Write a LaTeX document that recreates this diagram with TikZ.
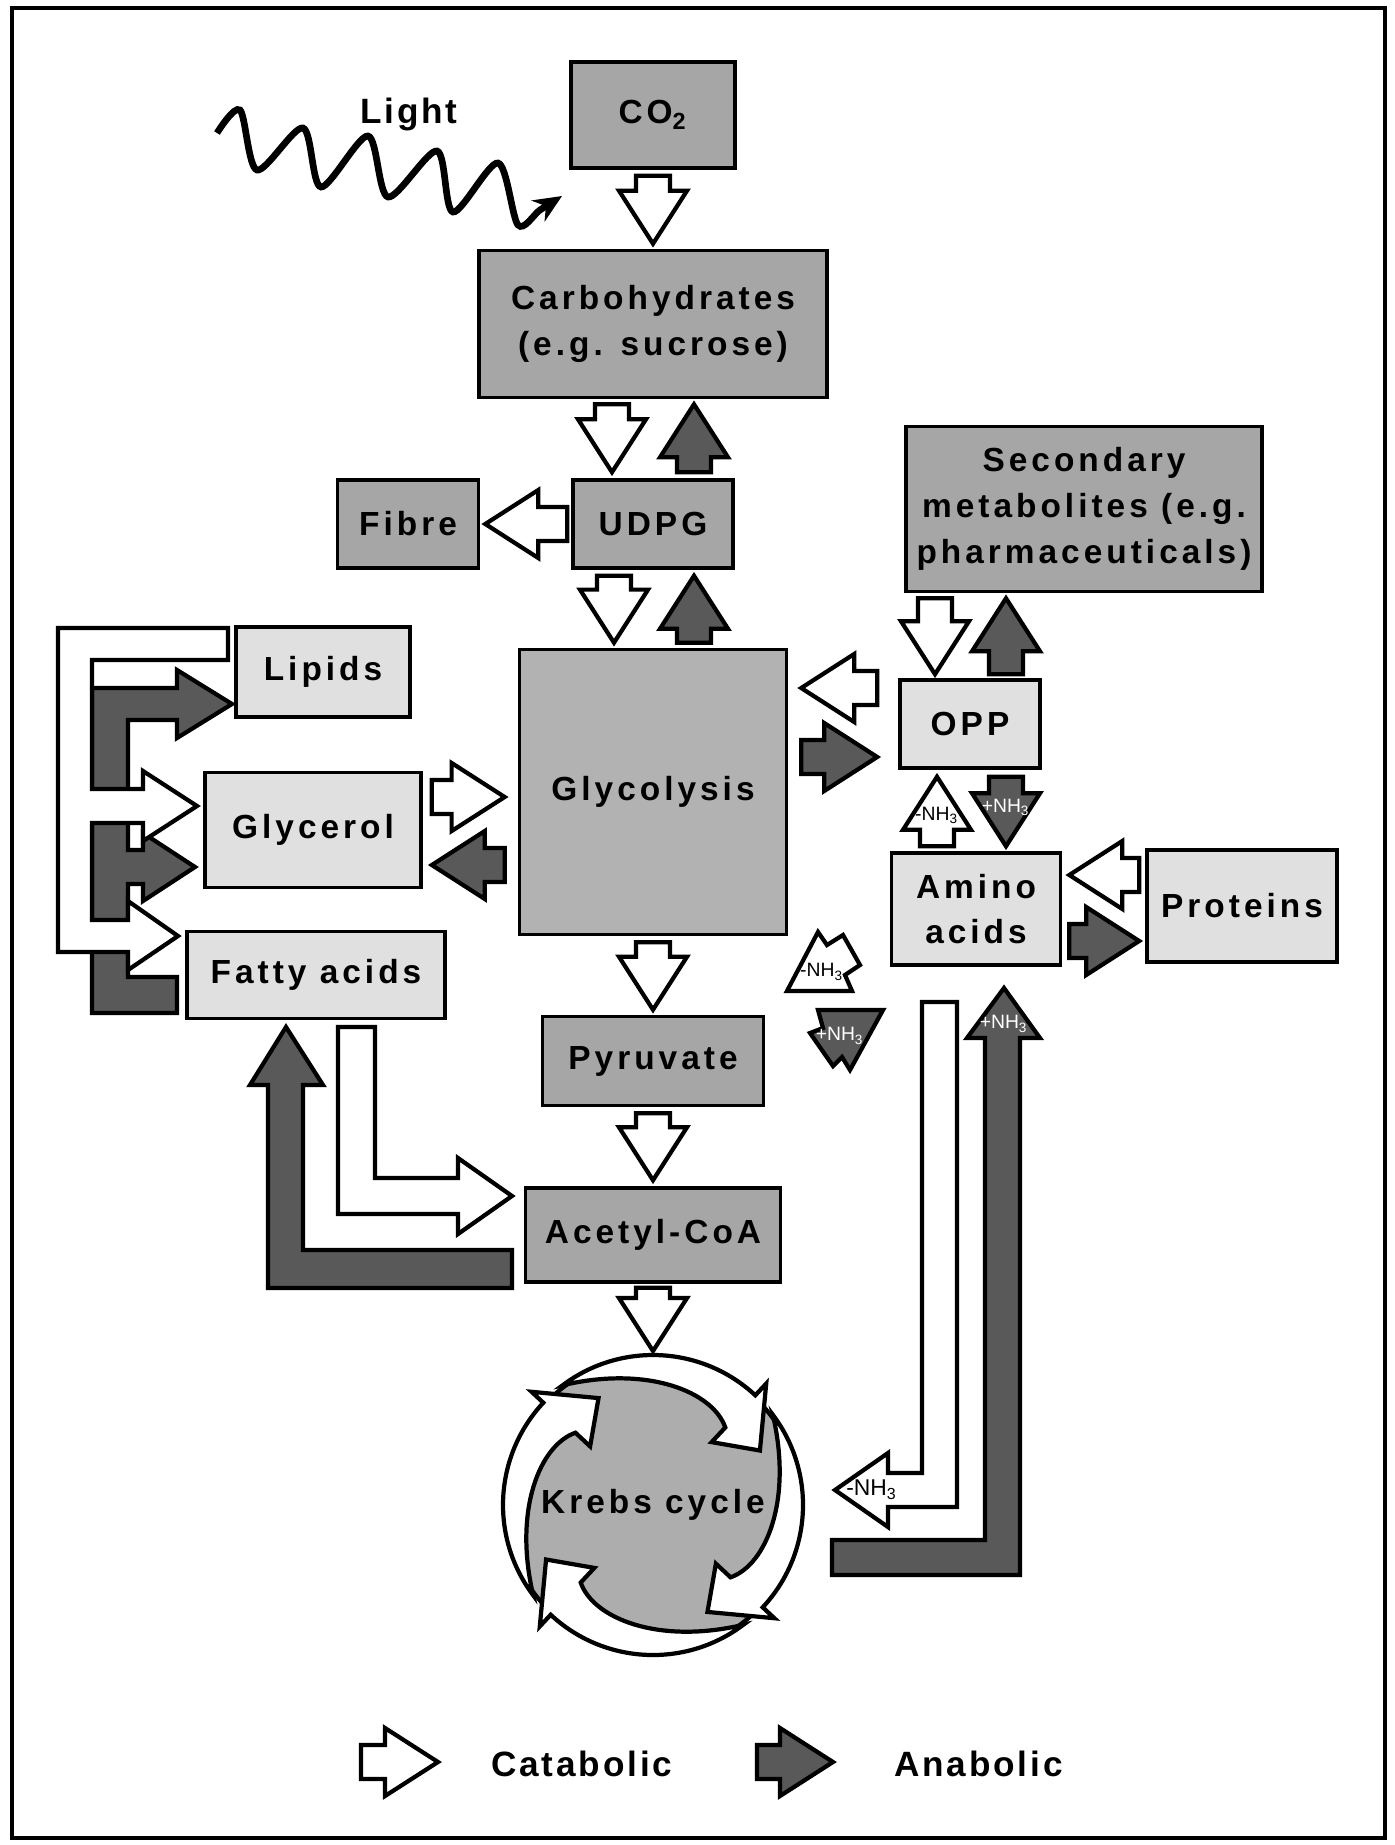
\documentclass[tikz,border=0pt]{standalone}
\usepackage{fontspec}
\setmainfont{Liberation Sans}
\newfontfamily\boxfont[LetterSpace=12]{Liberation Sans}
\newfontfamily\legfont[LetterSpace=8]{Liberation Sans}
\usetikzlibrary{calc,arrows.meta}

\tikzset{
  lbl/.style={font=\boxfont\bfseries\fontsize{9.5}{13}\selectfont},
  box/.style={lbl, draw, line width=1pt, inner sep=0pt, align=center},
  darkbox/.style={box, fill=black!35},
  lightbox/.style={box, fill=black!12},
  cat/.style={draw, line width=1.2pt, fill=white},
  ana/.style={draw, line width=1.2pt, fill=black!65},
  nh/.style={font=\fontsize{5.5}{6}\selectfont, inner sep=0pt},
  leg/.style={anchor=west, font=\legfont\bfseries\fontsize{10}{12}\selectfont},
}

% block arrow from #2 to #3
\newcommand\barrow[3][cat]{%
  \coordinate (bs) at #2;
  \coordinate (be) at #3;
  \coordinate (bh) at ($(be)!0.53cm!(bs)$);
  \draw[#1] ($(bs)!0.17cm!90:(be)$) -- ($(bh)!0.17cm!90:(be)$)
    -- ($(bh)!0.34cm!90:(be)$) -- (be) -- ($(bh)!0.34cm!-90:(be)$)
    -- ($(bh)!0.17cm!-90:(be)$) -- ($(bs)!0.17cm!-90:(be)$) -- cycle;}

\begin{document}
\begin{tikzpicture}[x=0.01cm, y=-0.01cm]
\useasboundingbox (0,0) rectangle (1395,1845);
\draw[line width=1.2pt] (12,8) rectangle (1385,1838);

% boxes
\node[darkbox, minimum width=1.64cm, minimum height=1.06cm] (co2) at (653,115) {CO\textsubscript{2}};
\node[darkbox, minimum width=3.48cm, minimum height=1.47cm] (carb) at (653,324) {Carbohydrates\\(e.g. sucrose)};
\node[darkbox, minimum width=1.60cm, minimum height=0.88cm] (udpg) at (653,524) {UDPG};
\node[darkbox, minimum width=1.41cm, minimum height=0.88cm] (fibre) at (408,524) {Fibre};
\node[box, fill=black!30, minimum width=2.67cm, minimum height=2.85cm] (glyc) at (653,792) {Glycolysis};
\node[darkbox, minimum width=3.56cm, minimum height=1.65cm] (sec) at (1084,509) {Secondary\\metabolites (e.g.\\pharmaceuticals)};
\node[lightbox, minimum width=1.40cm, minimum height=0.88cm] (opp) at (970,724) {OPP};
\node[lightbox, minimum width=1.69cm, minimum height=1.12cm] (amino) at (976,909) {Amino\\acids};
\node[lightbox, minimum width=1.90cm, minimum height=1.12cm] (prot) at (1242,906) {Proteins};
\node[lightbox, minimum width=1.74cm, minimum height=0.90cm] (lipid) at (323,672) {Lipids};
\node[lightbox, minimum width=2.16cm, minimum height=1.15cm] (glycer) at (313,830) {Glycerol};
\node[lightbox, minimum width=2.58cm, minimum height=0.87cm] (fatty) at (316,975) {Fatty acids};
\node[darkbox, minimum width=2.21cm, minimum height=0.89cm] (pyr) at (653,1061) {Pyruvate};
\node[darkbox, minimum width=2.55cm, minimum height=0.94cm] (acoa) at (653,1235) {Acetyl-CoA};

% light
\node[font=\legfont\bfseries\fontsize{10}{12}\selectfont] (light) at (409,114) {Light};
\draw[line width=1.9pt, -{Stealth[length=8pt,width=7pt]}] plot[smooth, tension=0.5] coordinates
  {(217,133) (240,110) (257,170) (303,128) (321,187) (368,136) (388,197) (437,151) (453,212) (498,163) (518,225) (540,210) (562,196)};

% krebs cycle
\coordinate (kc) at (653,1505);
\begin{scope}[shift={(kc)}, y=0.01cm]
\filldraw[fill=black!32, line width=1.2pt] (0,0) circle[radius=148];
\foreach \a in {-133,-43,47,137}
  \draw[cat] ({\a+80}:150) arc[start angle=\a+80, end angle=\a, radius=150]
    -- (\a:166) -- ({\a-20}:120) -- (\a:86) -- (\a:106)
    .. controls ({\a+15}:128) and ({\a+45}:140) .. ({\a+80}:150) -- cycle;
\end{scope}
\node[lbl] (krebs) at (kc) {Krebs cycle};

% main column
\barrow{($(co2.south)+(0,6)$)}{($(carb.north)+(0,-5)$)}
\barrow{($(carb.south)+(-41,5)$)}{($(udpg.north)+(-41,-6)$)}
\barrow[ana]{($(udpg.north)+(41,-6)$)}{($(carb.south)+(41,5)$)}
\barrow{($(udpg.west)+(-4,0)$)}{($(fibre.east)+(5,0)$)}
\barrow{($(udpg.south)+(-39,6)$)}{($(glyc.north)+(-39,-5)$)}
\barrow[ana]{($(glyc.north)+(41,-5)$)}{($(udpg.south)+(41,6)$)}
\barrow{($(glyc.south)+(0,6)$)}{($(pyr.north)+(0,-5)$)}
\barrow{($(pyr.south)+(0,6)$)}{($(acoa.north)+(0,-6)$)}
\barrow{($(acoa.south)+(0,4)$)}{($(kc)+(0,-154)$)}

% right side
\barrow{($(sec.south)+(-149,5)$)}{($(opp.north)+(-35,-4)$)}
\barrow[ana]{($(opp.north)+(36,-4)$)}{($(sec.south)+(-78,5)$)}
\barrow{($(opp.west)+(-21,-36)$)}{($(opp.west)+(-97,-36)$)}
\barrow[ana]{($(opp.west)+(-97,33)$)}{($(opp.west)+(-21,33)$)}
\barrow{($(amino.north)+(-39,-5)$)}{($(opp.south)+(-33,7)$)}
\barrow[ana]{($(opp.south)+(36,7)$)}{($(amino.north)+(30,-5)$)}
\node[nh] (nh1) at ($(amino.north)+(-39,-36)$) {-NH\textsubscript{3}};
\node[nh, text=white] (nh2) at ($(amino.north)+(30,-44)$) {+NH\textsubscript{3}};
\barrow{($(prot.west)+(-6,-31)$)}{($(amino.east)+(7,-34)$)}
\barrow[ana]{($(amino.east)+(7,32)$)}{($(prot.west)+(-6,35)$)}

% glycerol
\barrow{($(glycer.east)+(9,-33)$)}{($(glyc.west)+(-13,5)$)}
\barrow[ana]{($(glyc.west)+(-13,73)$)}{($(glycer.east)+(9,35)$)}

% lipids, glycerol, fatty acids
\draw[ana] (92,688) -- (177,688) -- (177,670) -- (232,704) -- (177,738) -- (177,720)
  -- (128,720) -- (128,850) -- (143,850) -- (143,833) -- (195,867) -- (143,901)
  -- (143,884) -- (128,884) -- (128,977) -- (177,977) -- (177,1013) -- (92,1013) -- cycle;
\draw[cat] (58,628) -- (228,628) -- (228,660) -- (92,660) -- (92,789) -- (143,789)
  -- (143,771) -- (197,806) -- (143,841) -- (143,823) -- (92,823) -- (92,920)
  -- (128,920) -- (128,901) -- (178,936) -- (128,970) -- (128,952) -- (58,952) -- cycle;

% fatty acids and acetyl-CoA
\draw[ana] (286,1027) -- (323,1085) -- (303,1085) -- (303,1250) -- (512,1250)
  -- (512,1288) -- (268,1288) -- (268,1085) -- (250,1085) -- cycle;
\draw[cat] (338,1027) -- (375,1027) -- (375,1178) -- (458,1178) -- (458,1158)
  -- (512,1196) -- (458,1234) -- (458,1214) -- (338,1214) -- cycle;

% amino acids and krebs cycle
\draw[cat] (922,1002) -- (957,1002) -- (957,1507) -- (888,1507) -- (888,1527)
  -- (835,1490) -- (888,1453) -- (888,1473) -- (922,1473) -- cycle;
\draw[ana] (1004,988) -- (1040,1038) -- (1020,1038) -- (1020,1575) -- (832,1575)
  -- (832,1540) -- (985,1540) -- (985,1038) -- (967,1038) -- cycle;
\node[nh, font=\fontsize{6.5}{7}\selectfont] (nh3) at (872,1490) {-NH\textsubscript{3}};
\node[nh, text=white] (nh4) at (1004,1024) {+NH\textsubscript{3}};

% broken arrows
\draw[cat] (818,932) -- (827,945) -- (843,935) -- (860,965) -- (845,975) -- (852,991) -- (787,991) -- cycle;
\node[nh] (nh5) at (822,972) {-NH\textsubscript{3}};
\draw[ana] (818,1010) -- (883,1010) -- (850,1070) -- (842,1057) -- (833,1066) -- (810,1033) -- (823,1028) -- cycle;
\node[nh, text=white] (nh6) at (840,1036) {+NH\textsubscript{3}};

% legend
\coordinate (lc) at (361,1762);
\barrow{(lc)}{($(lc)+(77,0)$)}
\node[leg] (catl) at (479,1764) {Catabolic};
\coordinate (la) at (757,1762);
\barrow[ana]{(la)}{($(la)+(76,0)$)}
\node[leg] (anal) at (882,1764) {Anabolic};
\end{tikzpicture}
\end{document}
